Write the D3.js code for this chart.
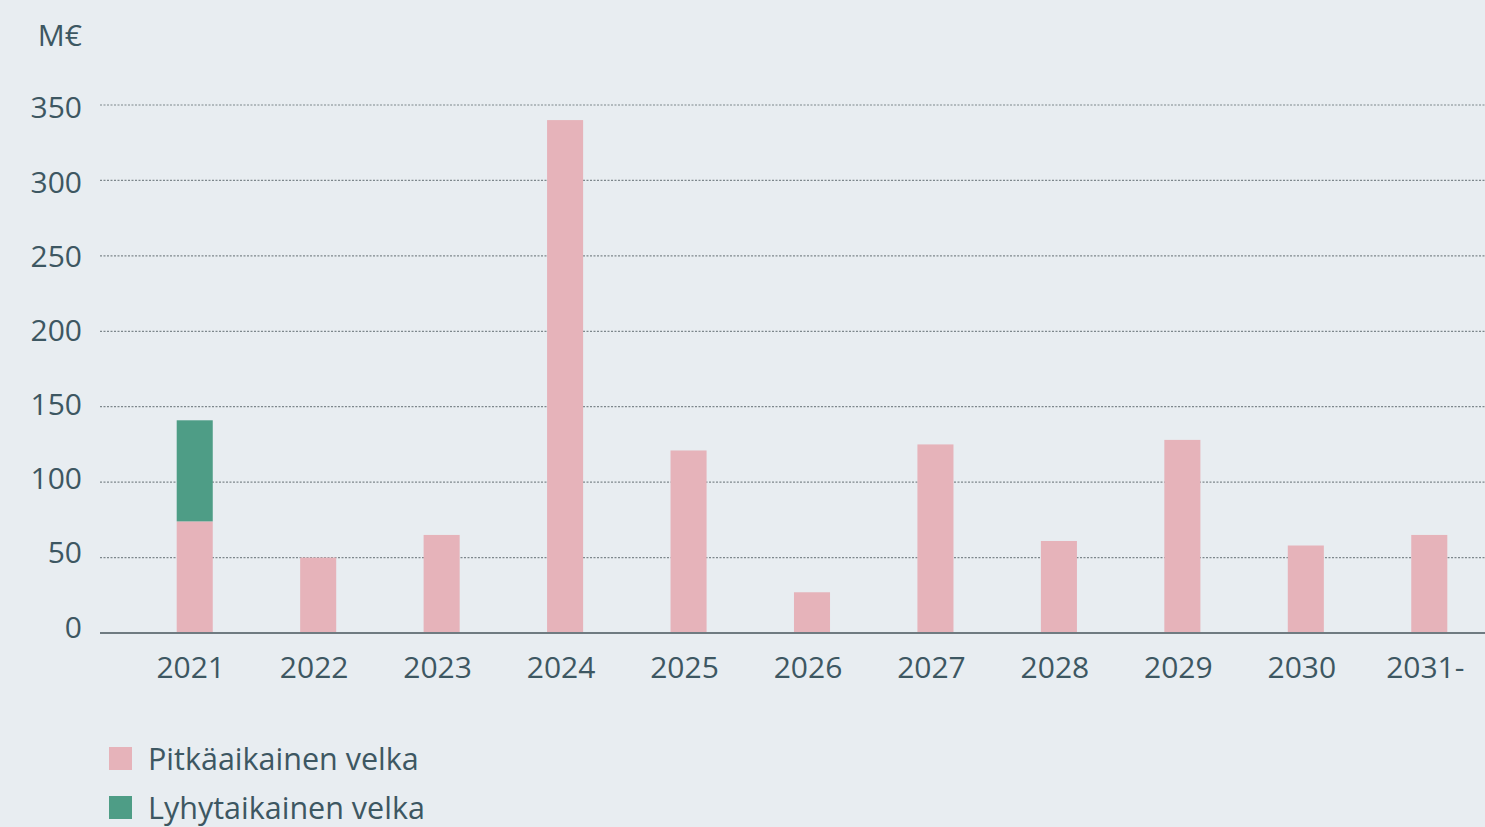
<!DOCTYPE html>
<html>
<head>
<meta charset="utf-8">
<script src="https://cdnjs.cloudflare.com/ajax/libs/d3/7.8.5/d3.min.js"></script>
<style>
  body { margin: 0; background: #e8edf1; }
  text { font-family: "Open Sans", sans-serif; fill: #3d5762; }
</style>
</head>
<body>
<div id="chart"></div>
<script>
let w = 1485;
let h = 827;

// data
const years = ['2021', '2022', '2023', '2024', '2025', '2026', '2027', '2028', '2029', '2030', '2031-'];
const pitka = [74, 50, 65, 340, 121, 27, 125, 61, 128, 58, 65];
const lyhyt = [67, 0, 0, 0, 0, 0, 0, 0, 0, 0, 0];
const yTicks = [0, 50, 100, 150, 200, 250, 300, 350];
const seriesNames = ['Pitkäaikainen velka', 'Lyhytaikainen velka'];
const colors = ['#e6b3ba', '#4e9d86'];

let svg = d3.select('#chart')
  .append('svg')
  .attr('width', w)
  .attr('height', h);

let Yscale = d3.scaleLinear()
  .domain([0, 350])
  .range([633, 105]);

let Xscale = d3.scaleBand()
  .domain(years)
  .range([133, 1491])
  .paddingInner(0.708)
  .paddingOuter(0.354);

// grid lines
svg.append('g')
  .selectAll('line')
  .data(yTicks.filter(d => d > 0))
  .enter()
  .append('line')
  .attr('x1', 100)
  .attr('x2', w)
  .attr('y1', d => Yscale(d))
  .attr('y2', d => Yscale(d))
  .attr('stroke', '#7d878c')
  .attr('stroke-width', 1.2)
  .attr('stroke-dasharray', '2,1.5');

// y labels (they sit a bit off the grid lines in the original)
svg.append('g')
  .selectAll('text')
  .data(yTicks)
  .enter()
  .append('text')
  .attr('x', 82)
  .attr('y', d => Yscale(d) + 4.5 + d * 0.0257)
  .attr('text-anchor', 'end')
  .style('font-size', '30px')
  .text(d => d);

svg.append('text')
  .attr('x', 82)
  .attr('y', 46)
  .attr('text-anchor', 'end')
  .style('font-size', '30px')
  .text('M€');

// stacked bars
let stack = d3.stack().keys([0, 1]).value((d, k) => d[k]);
let rows = years.map((y, i) => [pitka[i], lyhyt[i]]);
let layers = stack(rows);

svg.selectAll('g.layer')
  .data(layers)
  .enter()
  .append('g')
  .attr('class', 'layer')
  .attr('fill', (d, i) => colors[i])
  .selectAll('rect')
  .data(d => d)
  .enter()
  .append('rect')
  .attr('x', (d, i) => Xscale(years[i]))
  .attr('y', d => Yscale(d[1]))
  .attr('width', Xscale.bandwidth())
  .attr('height', d => Yscale(d[0]) - Yscale(d[1]));

// baseline
svg.append('line')
  .attr('x1', 100)
  .attr('x2', w)
  .attr('y1', Yscale(0))
  .attr('y2', Yscale(0))
  .attr('stroke', '#6f7b81')
  .attr('stroke-width', 2);

// x labels
svg.append('g')
  .selectAll('text')
  .data(years)
  .enter()
  .append('text')
  .attr('x', d => Xscale(d) + Xscale.bandwidth() / 2 - 4)
  .attr('y', 677.5)
  .attr('text-anchor', 'middle')
  .style('font-size', '30px')
  .text(d => d);

// legend
let legend = svg.append('g')
  .selectAll('g')
  .data(seriesNames)
  .enter()
  .append('g')
  .attr('transform', (d, i) => 'translate(109,' + (747 + i * 49) + ')');

legend.append('rect')
  .attr('width', 23)
  .attr('height', 23)
  .attr('fill', (d, i) => colors[i]);

legend.append('text')
  .attr('x', 39)
  .attr('y', 23)
  .style('font-size', '30.5px')
  .text(d => d);
</script>
</body>
</html>
